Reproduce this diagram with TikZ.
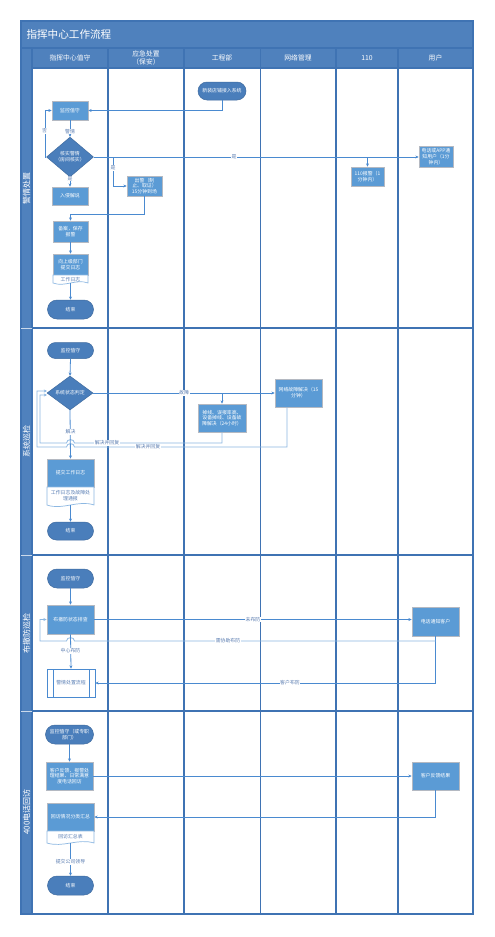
\documentclass[tikz,border=0pt]{standalone}
\usepackage{fontspec}
\setmainfont{Noto Sans CJK SC}
\usetikzlibrary{shapes.geometric,shapes.misc,arrows.meta,calc}
\definecolor{titleblue}{HTML}{4F81BD}
\definecolor{laneblue}{HTML}{3F73B3}
\definecolor{boxblue}{HTML}{5B9BD5}
\definecolor{boxborder}{HTML}{B4B9C2}
\definecolor{termblue}{HTML}{4A7EBB}
\definecolor{lineblue}{HTML}{4A8AD0}
\definecolor{lightline}{HTML}{8DB8E2}
\definecolor{lblcolor}{HTML}{5B7DB1}
\definecolor{doctext}{HTML}{5A7FB5}
\newcommand{\fs}{\fontsize{4.9}{5.8}\selectfont}
\begin{document}
\begin{tikzpicture}[x=1pt,y=-1pt,
  lane/.style={draw=laneblue,line width=1.1pt},
  box/.style={rectangle,draw=boxborder,line width=0.8pt,fill=boxblue,text=white,align=center,inner sep=0.5pt,font=\fs},
  term/.style={rounded rectangle,draw=termblue!85!black,line width=0.5pt,fill=termblue,text=white,align=center,inner sep=0.5pt,font=\fs},
  decide/.style={diamond,draw=termblue!85!black,line width=0.5pt,fill=termblue,text=white,align=center,inner sep=0pt,font=\fs},
  docpart/.style={draw=lightline,line width=0.7pt,fill=white},
  doctxt/.style={text=doctext,align=center,inner sep=0.5pt,font=\fs},
  arr/.style={draw=lineblue,line width=0.8pt,-{Stealth[length=3.2pt,width=3pt]}},
  rarr/.style={draw=lightline,line width=0.8pt,-{Stealth[length=3.2pt,width=3pt]}},
  lbl/.style={fill=white,text=lblcolor,inner sep=0.6pt,font=\fs},
  hdr/.style={text=white,align=center,font=\fontsize{6.8}{7.6}\selectfont},
  lanelbl/.style={text=white,rotate=90,font=\fontsize{8}{8.5}\selectfont}]
\useasboundingbox (0,0) rectangle (495,937);
% ---------- frame ----------
\fill[white] (21,21) rectangle (473,914);
\fill[titleblue] (21,21) rectangle (473,68);
\fill[titleblue] (21,68) rectangle (32,914);
\node[text=white,anchor=west,font=\fontsize{10.6}{11.5}\selectfont] (title) at (23,34.5) {指挥中心工作流程};
\foreach \x in {32,108,184,260.5,336,398,473} \draw[lane] (\x,48) -- (\x,914);
\draw[lane] (21,21) rectangle (473,914);
\draw[lane] (21,48) -- (473,48);
\foreach \y in {68,328,555,711} \draw[lane] (32,\y) -- (473,\y);
\foreach \y in {328,555,711} \draw[draw=white!70!titleblue,line width=0.8pt] (21,\y) -- (32,\y);
\node[hdr] (h1) at (70,58) {指挥中心值守};
\node[hdr] (h2) at (146,58) {应急处置\\（保安）};
\node[hdr] (h3) at (222,58) {工程部};
\node[hdr] (h4) at (298,58) {网络管理};
\node[hdr] (h5) at (367,58) {110};
\node[hdr] (h6) at (435.5,58) {用户};
\node[lanelbl] (l1) at (26.5,188) {警情处置};
\node[lanelbl] (l2) at (26.5,441) {系统巡检};
\node[lanelbl] (l3) at (26.5,633) {布撤防巡检};
\node[lanelbl] (l4) at (26.5,812) {400电话回访};
% ---------- row 1 ----------
\node[term,minimum width=49pt,minimum height=18pt] (n1) at (222,91) {新装店铺接入系统};
\node[box,minimum width=36pt,minimum height=19pt] (a1) at (70,110.5) {监控值守};
\node[decide,minimum width=47pt,minimum height=28pt] (d1) at (70,157) {核实警情\\（房间核实）};
\node[box,minimum width=36pt,minimum height=18pt] (b1) at (70,196) {入侵解说};
\node[box,minimum width=35pt,minimum height=20pt] (c1) at (144.5,186) {出警（制\\止、取证）\\15分钟到场};
\node[box,minimum width=35pt,minimum height=21pt] (e1) at (70.5,231.5) {备案，保存\\报警};
\node[box,minimum width=35pt,minimum height=21pt] (doc1) at (70.5,264.5) {向上级部门\\提交日志};
\draw[docpart] (53,275) -- (53,283) .. controls (64.7,287.5) and (76.3,278.5) .. (88,283) -- (88,275) -- cycle;
\node[doctxt] (doc1t) at (70.5,279.5) {工作日志};
\coordinate (doc1b) at (70.5,283);
\node[term,minimum width=47pt,minimum height=19pt] (end1) at (70.5,309.5) {结束};
\node[box,minimum width=33pt,minimum height=19pt] (p1) at (367.5,176.5) {110报警（1\\分钟内）};
\node[box,minimum width=34pt,minimum height=21pt] (u1) at (436,156.5) {电话或APP通\\知用户（1分\\钟内）};
\draw[arr] (n1.south) |- (a1.east);
\draw[arr] (a1.south) -- (d1.north);
\node[lbl] (q1) at (70,131.5) {警情};
\draw[arr] (d1.west) -- (45,157) |- (a1.west);
\node[lbl] (q2) at (44.5,131) {否};
\draw[arr] (d1.east) -- (d1.east -| u1.west);
\node[lbl] (q3) at (234,157) {是};
\coordinate (j1) at (113,157);
\draw[arr] (j1) |- (c1.west);
\node[lbl] (q4) at (113,168) {是};
\coordinate (j2) at (367.5,157);
\draw[arr] (j2) -- (p1.north);
\draw[arr] (d1.south) -- (b1.north);
\node[lbl] (q5) at (70,178.5) {是};
\draw[arr] (c1.south) -- (144.5,214) -| (e1.north);
\draw[arr] (e1.south) -- (doc1.north);
\draw[arr] (doc1b) -- (end1.north);
% ---------- row 2 ----------
\node[term,minimum width=47pt,minimum height=16pt] (m2) at (70.5,350.5) {监控值守};
\node[decide,minimum width=46pt,minimum height=28pt] (d2) at (70,393) {系统状态判定};
\node[box,minimum width=48pt,minimum height=28pt] (f2) at (222,418) {掉线、误报率高、\\设备掉线、设备故\\障解决（24小时）};
\node[box,minimum width=47pt,minimum height=28pt] (g2) at (298.5,393) {网络故障解决（15\\分钟）};
\node[box,minimum width=47pt,minimum height=28pt] (doc2) at (70.5,473) {提交工作日志};
\draw[docpart] (47,487) -- (47,505) .. controls (62.7,510.5) and (78.3,499.5) .. (94,505) -- (94,487) -- cycle;
\node[doctxt] (doc2t) at (70.5,495.5) {工作日志及故障处\\理通报};
\coordinate (doc2b) at (70.5,505);
\node[term,minimum width=47pt,minimum height=18pt] (end2) at (70.5,531) {结束};
\draw[arr] (m2.south) -- (d2.north);
\draw[arr] (d2.east) -- (g2.west);
\node[lbl] (q6) at (184,393) {故障};
\coordinate (j3) at (222,393);
\draw[arr] (j3) -- (f2.north);
\draw[rarr] (f2.south) -- (222,443) -- (74.5,443) .. controls (74.5,438.5) and (66.5,438.5) .. (66.5,443) -- (40,443) -- (40,395) -- (47,395);
\node[lbl] (q7) at (107,443) {解决并回复};
\draw[rarr] ($(g2.south)+(-11.5,0)$) -- (287,447) -- (74.5,447) .. controls (74.5,442.5) and (66.5,442.5) .. (66.5,447) -- (37,447) -- (37,391) -- (47,391);
\node[lbl] (q8) at (148,447) {解决并回复};
\draw[arr] (d2.south) -- (doc2.north);
\node[lbl] (q9) at (70.5,432) {解决};
\draw[arr] (doc2b) -- (end2.north);
% ---------- row 3 ----------
\node[term,minimum width=47pt,minimum height=19pt] (m3) at (70.5,578.5) {监控值守};
\node[box,minimum width=47pt,minimum height=29pt] (b3) at (70.5,619.5) {布撤防状态排查};
\node[box,minimum width=47pt,minimum height=29pt] (u3) at (435.5,621.5) {电话通知客户};
\node[rectangle,draw=lineblue,line width=0.8pt,fill=white,text=doctext,font=\fs,minimum width=48pt,minimum height=28pt,inner sep=0.5pt] (pp3) at (71,683) {警情处置流程};
\draw[draw=lineblue,line width=0.8pt] (53,669) -- (53,697) (89,669) -- (89,697);
\draw[arr] (m3.south) -- (b3.north);
\draw[arr] (b3.east) -- (b3.east -| u3.west);
\node[lbl] (q10) at (253,619.5) {未布防};
\draw[arr] (u3.south) -- (435.5,683) -- (pp3.east);
\node[lbl] (q11) at (290,683) {客户布防};
\draw[rarr] (435.5,641) -- (74.5,641) .. controls (74.5,636.5) and (66.5,636.5) .. (66.5,641) -- (40,641) -- (40,619.5) -- (b3.west);
\node[lbl] (q12) at (228,641) {需协助布防};
\draw[arr] (b3.south) -- (pp3.north);
\node[lbl] (q13) at (70.5,651) {中心布防};
% ---------- row 4 ----------
\node[term,minimum width=49pt,minimum height=19pt] (m4) at (69.5,734.5) {监控值守（或专职\\部门）};
\node[box,minimum width=47pt,minimum height=28pt] (b4) at (69.5,776) {客户反馈、报警处\\理结果、日常满意\\度电话回访};
\node[box,minimum width=47pt,minimum height=28pt] (u4) at (435.5,776) {客户反馈结果};
\node[box,minimum width=47pt,minimum height=28pt] (doc4) at (70.5,817) {回访情况分类汇总};
\draw[docpart] (47,831) -- (47,843) .. controls (62.7,848) and (78.3,838) .. (94,843) -- (94,831) -- cycle;
\node[doctxt] (doc4t) at (70.5,837) {回访汇总表};
\coordinate (doc4b) at (70.5,843);
\node[term,minimum width=47pt,minimum height=19pt] (end4) at (70.5,885.5) {结束};
\draw[arr] (m4.south) -- (b4.north);
\draw[arr] (b4.east) -- (u4.west);
\draw[arr] (u4.south) |- (doc4.east);
\draw[arr] (doc4b) -- (end4.north);
\node[lbl] (q14) at (70.5,862) {提交公司领导};
\end{tikzpicture}
\end{document}
